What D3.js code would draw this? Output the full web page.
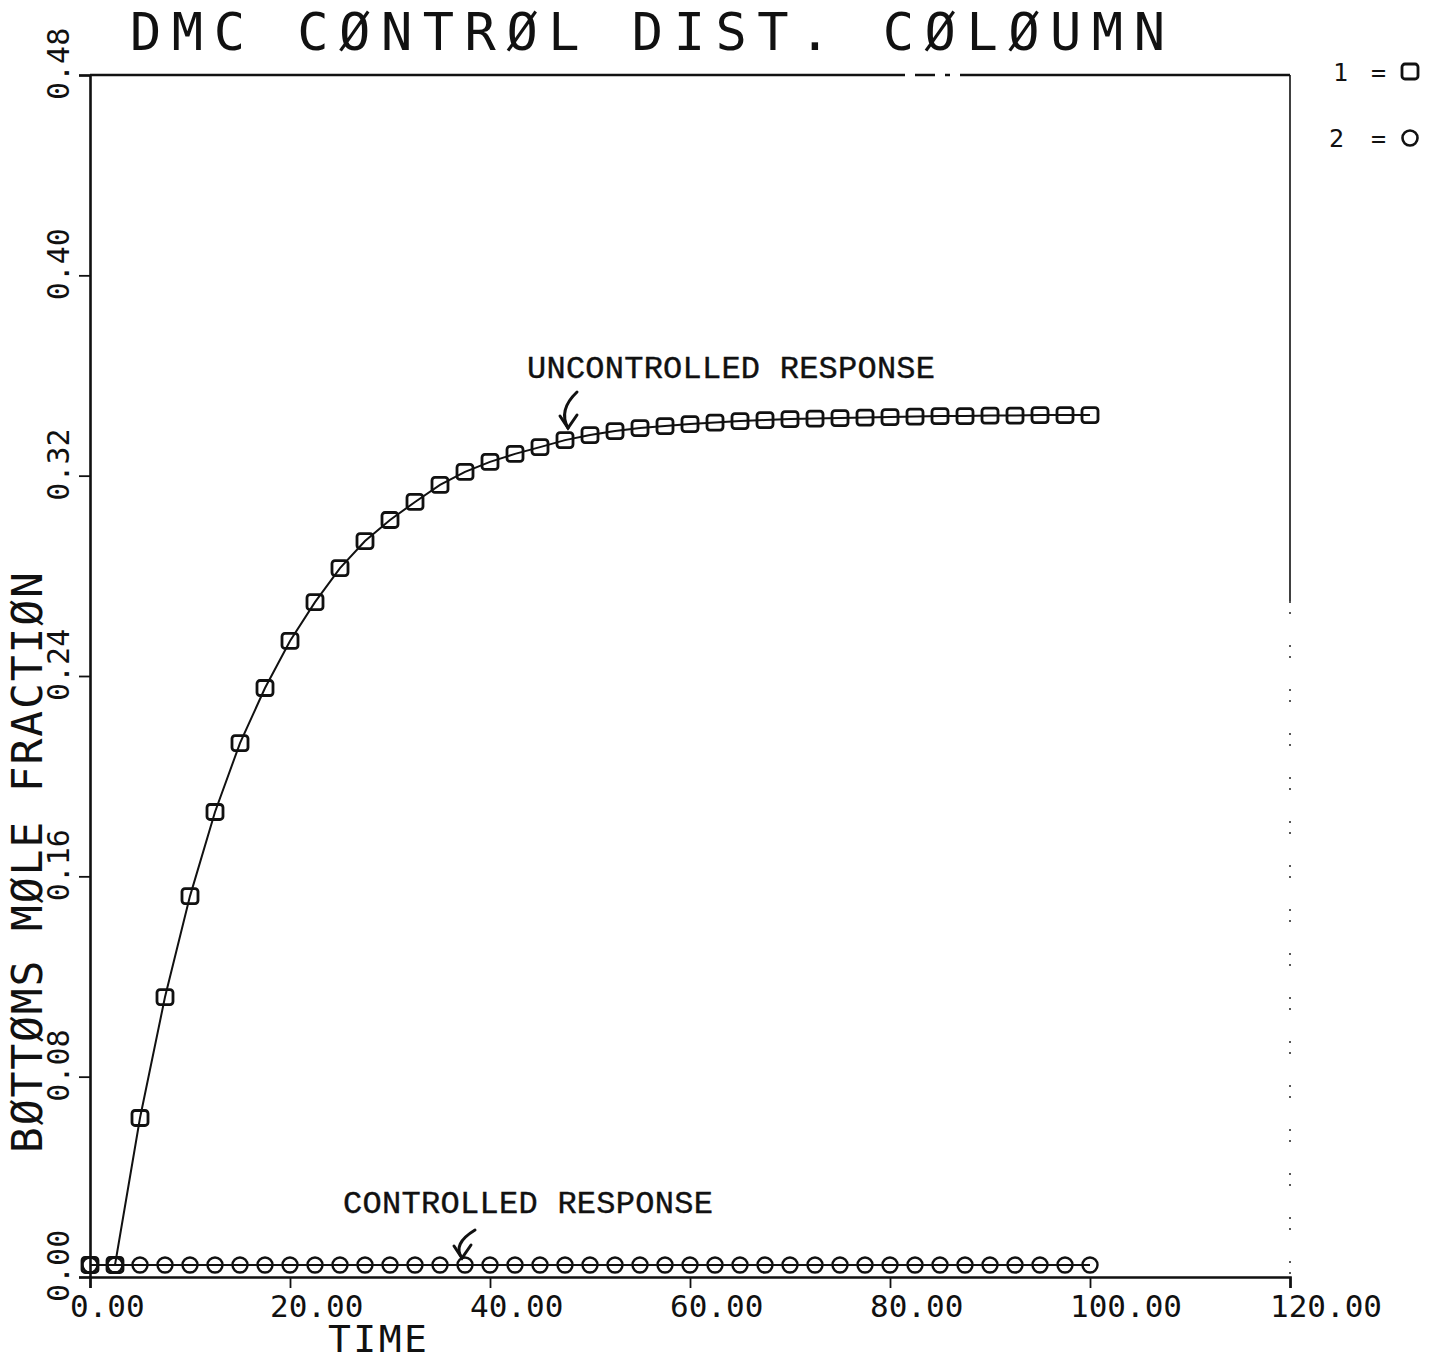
<!DOCTYPE html>
<html>
<head>
<meta charset="utf-8">
<script src="https://cdn.jsdelivr.net/npm/d3@7"></script>
<style>
  html, body { margin: 0; padding: 0; background: #fff; }
  svg { display: block; }
  .plot { font-family: "DejaVu Sans Mono", monospace; fill: #111; }
  .note { font-family: "Liberation Mono", "Courier New", monospace; fill: #111; stroke: #111; stroke-width: 0.4; }
</style>
</head>
<body>
<svg id="chart" width="1441" height="1364"></svg>
<script>
// sample times (every 2.5 time units)
const times = [0, 2.5, 5, 7.5, 10, 12.5, 15, 17.5, 20, 22.5, 25, 27.5, 30, 32.5, 35, 37.5, 40,
  42.5, 45, 47.5, 50, 52.5, 55, 57.5, 60, 62.5, 65, 67.5, 70, 72.5, 75, 77.5, 80,
  82.5, 85, 87.5, 90, 92.5, 95, 97.5, 100]

// series 1: uncontrolled response (squares)
const uncontrolled = [0.0048, 0.0048, 0.0635, 0.1118, 0.1521, 0.1857, 0.2132, 0.2352, 0.2540,
  0.2695, 0.2831, 0.2939, 0.3023, 0.3095, 0.3163, 0.3215, 0.3255, 0.3287, 0.3314, 0.3342,
  0.3362, 0.3378, 0.3390, 0.3398, 0.3406, 0.3412, 0.3418, 0.3422, 0.3426, 0.3428, 0.3430,
  0.3432, 0.3434, 0.3436, 0.3438, 0.3438, 0.3440, 0.3440, 0.3442, 0.3442, 0.3442]

// series 2: controlled response (circles)
const controlled = [0.0048, 0.0048, 0.0048, 0.0048, 0.0048, 0.0048, 0.0048, 0.0048, 0.0048,
  0.0048, 0.0048, 0.0048, 0.0048, 0.0048, 0.0048, 0.0048, 0.0048, 0.0048, 0.0048, 0.0048,
  0.0048, 0.0048, 0.0048, 0.0048, 0.0048, 0.0048, 0.0048, 0.0048, 0.0048, 0.0048, 0.0048,
  0.0048, 0.0048, 0.0048, 0.0048, 0.0048, 0.0048, 0.0048, 0.0048, 0.0048, 0.0048]

const xTicks = [0, 20, 40, 60, 80, 100, 120]
const yTicks = [0, 0.08, 0.16, 0.24, 0.32, 0.40, 0.48]

const title = 'DMC CØNTRØL DIST. CØLØUMN'
const xTitle = 'TIME'
const yTitle = 'BØTTØMS MØLE FRACTIØN'

const svg = d3.select('#chart')
const ink = '#111'

const x = d3.scaleLinear().domain([0, 120]).range([90, 1290])
const y = d3.scaleLinear().domain([0, 0.48]).range([1277, 75])

// frame: left + bottom axes via d3 axes, ticks outward
const xAxis = svg.append('g')
  .attr('transform', `translate(0,${y(0)})`)
  .call(d3.axisBottom(x).tickValues(xTicks).tickSize(11).tickFormat(''))
const yAxis = svg.append('g')
  .attr('transform', `translate(${x(0)},0)`)
  .call(d3.axisLeft(y).tickValues(yTicks).tickSize(11).tickFormat(''))
;[xAxis, yAxis].forEach((g) => {
  g.select('.domain').attr('stroke', ink).attr('stroke-width', 2.6)
  g.selectAll('.tick line').attr('stroke', ink).attr('stroke-width', 1.8)
})

// top border, with the plotter's pen skip
svg.append('path')
  .attr('d', `M${x(0)},${y(0.48)}H${x(81.5)}M${x(82.5)},${y(0.48)}H${x(84.5)}M${x(85.5)},${y(0.48)}H${x(86)}M${x(87)},${y(0.48)}H${x(120)}`)
  .attr('stroke', ink).attr('stroke-width', 2.4).attr('fill', 'none')

// right border, fading out lower down
svg.append('line')
  .attr('x1', x(120)).attr('x2', x(120)).attr('y1', y(0.48)).attr('y2', y(0.27))
  .attr('stroke', ink).attr('stroke-width', 1.6)
svg.append('line')
  .attr('x1', x(120)).attr('x2', x(120)).attr('y1', y(0.27)).attr('y2', y(0))
  .attr('stroke', ink).attr('stroke-width', 1.4).attr('stroke-dasharray', '2,9,2,31')

// tick labels
svg.append('g').attr('class', 'plot')
  .selectAll('text').data(xTicks).join('text')
  .attr('x', (d) => x(d) - 20)
  .attr('y', 1317)
  .attr('font-size', 31)
  .text((d) => d.toFixed(2))

svg.append('g').attr('class', 'plot')
  .selectAll('text').data(yTicks).join('text')
  .attr('transform', (d) => `translate(69,${y(d) + 25}) rotate(-90)`)
  .attr('font-size', 30)
  .text((d) => d.toFixed(2))

// titles
svg.append('text').attr('class', 'plot')
  .attr('x', 130).attr('y', 50)
  .attr('font-size', 52)
  .attr('textLength', 1035).attr('lengthAdjust', 'spacing')
  .text(title)

svg.append('text').attr('class', 'plot')
  .attr('x', 328).attr('y', 1352)
  .attr('font-size', 38)
  .attr('textLength', 99).attr('lengthAdjust', 'spacing')
  .text(xTitle)

svg.append('text').attr('class', 'plot')
  .attr('transform', 'translate(42,1153) rotate(-90)')
  .attr('font-size', 43)
  .attr('textLength', 581).attr('lengthAdjust', 'spacing')
  .text(yTitle)

// series lines
const rows1 = times.map((t, i) => ({ t, v: uncontrolled[i] }))
const rows2 = times.map((t, i) => ({ t, v: controlled[i] }))
const line = d3.line().x((d) => x(d.t)).y((d) => y(d.v))

svg.append('path').datum(rows2)
  .attr('d', line).attr('fill', 'none').attr('stroke', ink).attr('stroke-width', 2.2)

// markers: circles for controlled
svg.append('g').selectAll('circle').data(rows2).join('circle')
  .attr('cx', (d) => x(d.t)).attr('cy', (d) => y(d.v))
  .attr('r', 7.5)
  .attr('fill', 'none').attr('stroke', ink).attr('stroke-width', 2.4)

// markers: squares for uncontrolled
svg.append('g').selectAll('rect').data(rows1).join('rect')
  .attr('x', (d) => x(d.t) - 8).attr('y', (d) => y(d.v) - 7.5)
  .attr('width', 16).attr('height', 15).attr('rx', 3)
  .attr('fill', 'none').attr('stroke', ink).attr('stroke-width', 2.8)

svg.append('path').datum(rows1)
  .attr('d', line).attr('fill', 'none').attr('stroke', ink).attr('stroke-width', 2)

// annotations with hand-drawn arrows
svg.append('text').attr('class', 'note')
  .attr('x', 527).attr('y', 378).attr('font-size', 32)
  .attr('textLength', 408).attr('lengthAdjust', 'spacing')
  .text('UNCONTROLLED RESPONSE')
svg.append('text').attr('class', 'note')
  .attr('x', 343).attr('y', 1213).attr('font-size', 32)
  .attr('textLength', 370).attr('lengthAdjust', 'spacing')
  .text('CONTROLLED RESPONSE')

function arrow (x0, y0, x1, y1, bend) {
  const g = svg.append('g').attr('fill', 'none').attr('stroke', ink)
    .attr('stroke-width', 3).attr('stroke-linecap', 'round')
  g.append('path').attr('d', `M${x0},${y0}Q${x1 + bend},${(y0 + y1) / 2} ${x1},${y1}`)
  g.append('path').attr('d', `M${x1 - 8},${y1 - 12}L${x1},${y1}L${x1 + 9},${y1 - 13}`)
}
arrow(x(48.7), 392, x(47.8), 428, -10)
arrow(x(38.5), 1230, x(37.2), 1258, -10)

// legend
const legend = svg.append('g')
legend.append('text').attr('class', 'plot').attr('x', 1333).attr('y', 81).attr('font-size', 25).text('1')
legend.append('text').attr('class', 'plot').attr('x', 1371).attr('y', 81).attr('font-size', 25).text('=')
legend.append('rect').attr('x', 1402).attr('y', 64).attr('width', 16).attr('height', 15).attr('rx', 3)
  .attr('fill', 'none').attr('stroke', ink).attr('stroke-width', 2.8)
legend.append('text').attr('class', 'plot').attr('x', 1329).attr('y', 147).attr('font-size', 25).text('2')
legend.append('text').attr('class', 'plot').attr('x', 1371).attr('y', 147).attr('font-size', 25).text('=')
legend.append('circle').attr('cx', 1410).attr('cy', 138).attr('r', 7.5)
  .attr('fill', 'none').attr('stroke', ink).attr('stroke-width', 2.6)
</script>
</body>
</html>
